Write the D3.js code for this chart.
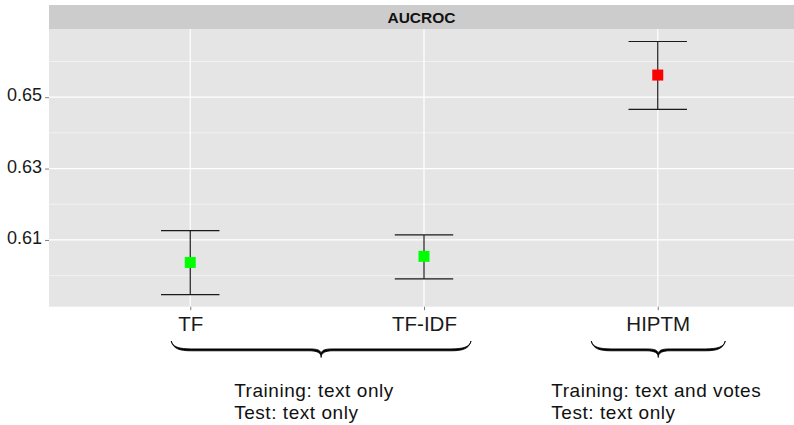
<!DOCTYPE html>
<html>
<head>
<meta charset="utf-8">
<script src="https://cdn.jsdelivr.net/npm/d3@7"></script>
<style>
  html, body { margin: 0; padding: 0; background: #ffffff; }
  svg { display: block; font-family: "Liberation Sans", Arial, Helvetica, sans-serif; }
</style>
</head>
<body>
<svg id="chart" width="794" height="425"></svg>
<script>
// Model comparison: mean AUC-ROC with error bars
const models = ["TF", "TF-IDF", "HIPTM"];
const means  = [0.6037, 0.6054, 0.6562];
const lower  = [0.5947, 0.5991, 0.6466];
const upper  = [0.6126, 0.6114, 0.6656];
const pointColors = ["#00ff00", "#00ff00", "#ff0000"];

const majorTicks = [0.61, 0.63, 0.65];
const minorTicks = [0.60, 0.62, 0.64, 0.66];
const panelTitle = "AUCROC";

// Setting groups shown as braces beneath the categories
const groupFrom  = ["TF", "HIPTM"];
const groupTo    = ["TF-IDF", "HIPTM"];
const groupLine1 = ["Training: text only", "Training: text and votes"];
const groupLine2 = ["Test: text only", "Test: text only"];

const W = 794, H = 425;
const panel = { left: 49, right: 794, top: 29, bottom: 306.7 };

const svg = d3.select("#chart");

const x = d3.scalePoint()
  .domain(models)
  .range([50, 798])
  .padding(0.6);
const step = x.step();

const y = d3.scaleLinear()
  .domain([0.5913, 0.6691])
  .range([panel.bottom, panel.top]);

// strip
svg.append("rect")
  .attr("x", panel.left).attr("y", 5)
  .attr("width", panel.right - panel.left).attr("height", panel.top - 5)
  .attr("fill", "#cccccc");
svg.append("text")
  .attr("x", (panel.left + panel.right) / 2)
  .attr("y", 23)
  .attr("text-anchor", "middle")
  .attr("font-size", 15.5)
  .attr("font-weight", "bold")
  .attr("fill", "#111111")
  .text(panelTitle);

// panel background
svg.append("rect")
  .attr("x", panel.left).attr("y", panel.top)
  .attr("width", panel.right - panel.left).attr("height", panel.bottom - panel.top)
  .attr("fill", "#e5e5e5");

const grid = svg.append("g");
grid.selectAll("line.minor").data(minorTicks).join("line")
  .attr("class", "minor")
  .attr("x1", panel.left).attr("x2", panel.right)
  .attr("y1", d => y(d)).attr("y2", d => y(d))
  .attr("stroke", "#f2f2f2").attr("stroke-width", 1);
grid.selectAll("line.major").data(majorTicks).join("line")
  .attr("class", "major")
  .attr("x1", panel.left).attr("x2", panel.right)
  .attr("y1", d => y(d)).attr("y2", d => y(d))
  .attr("stroke", "#ffffff").attr("stroke-width", 1.2);
grid.selectAll("line.vmajor").data(models).join("line")
  .attr("class", "vmajor")
  .attr("x1", d => x(d)).attr("x2", d => x(d))
  .attr("y1", panel.top).attr("y2", panel.bottom)
  .attr("stroke", "#ffffff").attr("stroke-width", 1.2);

// y axis
const yAxis = svg.append("g")
  .attr("transform", `translate(${panel.left},0)`)
  .call(d3.axisLeft(y).tickValues(majorTicks).tickFormat(d3.format(".2f")).tickSize(4).tickPadding(3));
yAxis.select(".domain").remove();
yAxis.selectAll(".tick line").attr("stroke", "#7f7f7f");
yAxis.selectAll(".tick text")
  .attr("font-size", 18)
  .attr("font-family", "Liberation Sans, Arial, sans-serif")
  .attr("fill", "#1a1a1a")
  .attr("dy", "0.2em");

// x axis
const xAxis = svg.append("g")
  .attr("transform", `translate(0,${panel.bottom})`)
  .call(d3.axisBottom(x).tickSize(3.5).tickPadding(6));
xAxis.select(".domain").remove();
xAxis.selectAll(".tick line").attr("stroke", "#7f7f7f");
xAxis.selectAll(".tick text")
  .attr("font-size", 20.5)
  .attr("font-family", "Liberation Sans, Arial, sans-serif")
  .attr("fill", "#1a1a1a");

// error bars
const rows = models.map((m, i) => ({ m, mean: means[i], lo: lower[i], hi: upper[i], color: pointColors[i] }));
const capHalf = step * 0.125;
const bars = svg.append("g").attr("stroke", "#1a1a1a").attr("stroke-width", 1.2);
bars.selectAll("line.stem").data(rows).join("line")
  .attr("x1", d => x(d.m)).attr("x2", d => x(d.m))
  .attr("y1", d => y(d.lo)).attr("y2", d => y(d.hi));
bars.selectAll("line.top").data(rows).join("line")
  .attr("x1", d => x(d.m) - capHalf).attr("x2", d => x(d.m) + capHalf)
  .attr("y1", d => y(d.hi)).attr("y2", d => y(d.hi));
bars.selectAll("line.bot").data(rows).join("line")
  .attr("x1", d => x(d.m) - capHalf).attr("x2", d => x(d.m) + capHalf)
  .attr("y1", d => y(d.lo)).attr("y2", d => y(d.lo));

// points
const sq = 11;
svg.append("g").selectAll("rect").data(rows).join("rect")
  .attr("x", d => x(d.m) - sq / 2)
  .attr("y", d => y(d.mean) - sq / 2)
  .attr("width", sq).attr("height", sq)
  .attr("fill", d => d.color);

// curly brace pointing down, drawn as a filled tapered shape
function bracePath(x1, x2, xm, yTop, yLine, yTip) {
  const r = 20, t = 1.9;
  const outer = [
    `M${x1},${yTop}`,
    `C${x1 + 2},${yLine - 2} ${x1 + 8},${yLine} ${x1 + r},${yLine}`,
    `L${xm - 12},${yLine}`,
    `C${xm - 4},${yLine} ${xm},${yLine + 2} ${xm},${yTip}`,
    `C${xm},${yLine + 2} ${xm + 4},${yLine} ${xm + 12},${yLine}`,
    `L${x2 - r},${yLine}`,
    `C${x2 - 8},${yLine} ${x2 - 2},${yLine - 2} ${x2},${yTop}`
  ].join(" ");
  const inner = [
    `C${x2 - 1},${yLine - 2 - t} ${x2 - 8},${yLine - t} ${x2 - r},${yLine - t}`,
    `L${xm + 12},${yLine - t}`,
    `C${xm + 4},${yLine - t} ${xm},${yLine - 1} ${xm},${yTip - 3}`,
    `C${xm},${yLine - 1} ${xm - 4},${yLine - t} ${xm - 12},${yLine - t}`,
    `L${x1 + r},${yLine - t}`,
    `C${x1 + 8},${yLine - t} ${x1 + 1},${yLine - 2 - t} ${x1},${yTop}`,
    "Z"
  ].join(" ");
  return outer + " " + inner;
}

const groups = groupFrom.map((g, i) => {
  const a = x(g), b = x(groupTo[i]);
  const single = g === groupTo[i];
  const x1 = single ? a - 66.5 : a - 19;
  const x2 = single ? b + 67.5 : b + 47;
  const xm = (x1 + x2) / 2;
  return { x1, x2, xm, l1: groupLine1[i], l2: groupLine2[i] };
});

svg.append("g").selectAll("path").data(groups).join("path")
  .attr("d", d => bracePath(d.x1, d.x2, d.xm, 341, 350.8, 357.5))
  .attr("fill", "#000000")
  .attr("stroke", "#000000")
  .attr("stroke-width", 0.8)
  .attr("stroke-linejoin", "round");

const notes = svg.append("g")
  .attr("font-size", 19)
  .attr("letter-spacing", "0.55px")
  .attr("fill", "#111111");
notes.selectAll("text.l1").data(groups).join("text")
  .attr("class", "l1")
  .attr("x", (d, i) => i === 0 ? d.xm - 87 : d.xm - 107)
  .attr("y", 396.7)
  .text(d => d.l1);
notes.selectAll("text.l2").data(groups).join("text")
  .attr("class", "l2")
  .attr("x", (d, i) => i === 0 ? d.xm - 87 : d.xm - 107)
  .attr("y", 419.2)
  .text(d => d.l2);
</script>
</body>
</html>
